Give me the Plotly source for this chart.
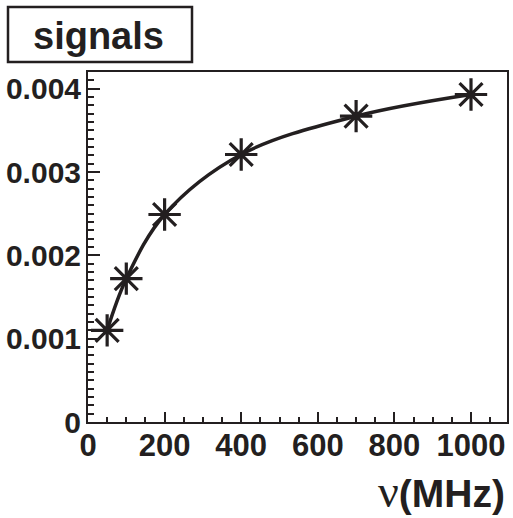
import plotly.graph_objects as go

freq_mhz = [50, 100, 200, 400, 700, 1000]
signal = [0.00110, 0.00172, 0.00249, 0.00321, 0.00367, 0.00393]

W, H = 513, 518
L, R, T, B = 88, 6, 72, 96
pw, ph = W - L - R, H - T - B

def px(x):
    return (x - L) / pw

def py(y):
    return (H - B - y) / ph

font_family = "Liberation Sans, Arial, Helvetica, sans-serif"
ink = "#231f20"

fig = go.Figure()
fig.add_trace(go.Scatter(
    x=freq_mhz, y=signal, mode="lines+markers",
    line=dict(color=ink, width=3.5, shape="spline", smoothing=1.0),
    marker=dict(symbol="asterisk-open", size=27, color=ink,
                line=dict(color=ink, width=3.2)),
    showlegend=False,
))

axis_common = dict(
    showline=True, linecolor=ink, linewidth=2, mirror=True,
    ticks="inside", tickcolor=ink, tickwidth=2,
    showgrid=False, zeroline=False, automargin=False,
)

fig.update_xaxes(range=[0, 1094], dtick=200, tick0=0, ticklen=10,
                 minor=dict(dtick=50, ticks="inside", ticklen=5, tickcolor=ink, tickwidth=2),
                 tickfont=dict(family=font_family, size=31, color=ink, weight="bold"),
                 ticklabelstandoff=-5, **axis_common)
fig.update_yaxes(range=[0, 0.0042], dtick=0.001, tick0=0, ticklen=12,
                 minor=dict(dtick=0.0001, ticks="inside", ticklen=6, tickcolor=ink, tickwidth=2),
                 tickfont=dict(family=font_family, size=30, color=ink, weight="bold"),
                 ticklabelstandoff=-1, **axis_common)

# title box
fig.add_shape(type="rect", xref="paper", yref="paper",
              x0=px(8), x1=px(192), y0=py(62), y1=py(7),
              line=dict(color=ink, width=2.5), fillcolor="white", layer="above")
fig.add_annotation(xref="paper", yref="paper", x=px(98), y=py(36),
                   xanchor="center", yanchor="middle", showarrow=False,
                   text="signals",
                   font=dict(family=font_family, size=38, color=ink, weight="bold"))

# x-axis title
fig.add_annotation(xref="paper", yref="paper", x=px(507), y=py(491),
                   xanchor="right", yanchor="middle", showarrow=False,
                   text="<span style=\"font-family:'Liberation Serif';font-weight:normal;font-size:46px\">ν</span>(MHz)",
                   font=dict(family=font_family, size=39, color=ink, weight="bold"))

fig.update_layout(
    width=W, height=H,
    margin=dict(l=L, r=R, t=T, b=B, pad=0, autoexpand=False),
    paper_bgcolor="white", plot_bgcolor="white",
)

fig.write_html("out.html")
